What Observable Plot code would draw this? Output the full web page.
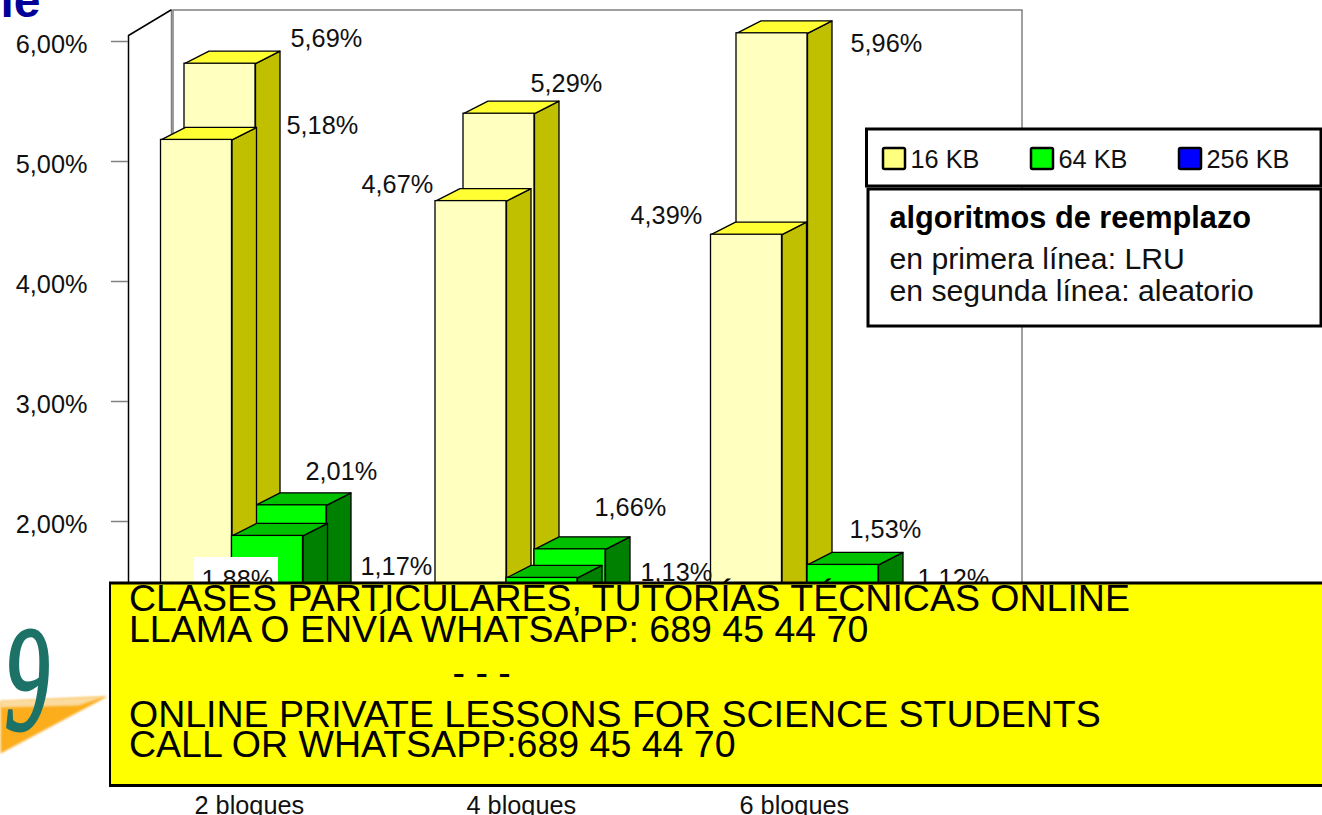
<!DOCTYPE html>
<html><head><meta charset="utf-8">
<script src="https://cdn.jsdelivr.net/npm/d3@7"></script>
<script src="https://cdn.jsdelivr.net/npm/@observablehq/plot@0.6"></script>
<style>html,body{margin:0;padding:0;background:#fff;overflow:hidden}svg{display:block}</style>
</head><body><div id="chart"></div>
<script>
// ---- data ----
const groups = ["2 bloques", "4 bloques", "6 bloques"];
const lru16 = [5.18, 4.67, 4.39];
const rnd16 = [5.69, 5.29, 5.96];
const lru64 = [1.88, 1.53, 1.35];      // only the 1st label is legible, the rest estimated
const rnd64 = [2.01, 1.66, 1.53];
const lru256 = [0.95, 0.9, 0.9];       // hidden by the banner, estimated
const rnd256 = [1.17, 1.13, 1.12];
const yTicks = [2, 3, 4, 5, 6];
const series = ["16 KB", "64 KB", "256 KB"];
const bannerLines = [
  "CLASES PARTICULARES, TUTORÍAS TÉCNICAS ONLINE",
  "LLAMA O ENVÍA WHATSAPP: 689 45 44 70",
  "- - -",
  "ONLINE PRIVATE LESSONS FOR SCIENCE STUDENTS",
  "CALL OR WHATSAPP:689 45 44 70"
];

// ---- layout ----
const W = 1322, H = 815, FONT = "Liberation Sans, Arial, sans-serif";
const y0px = 761, pxPerUnit = 120;
const py = p => (y0px - p) / pxPerUnit;          // pixel row -> value on the y scale
const dy = 12.5 / pxPerUnit, dx = 24.5, barW = 71;
const groupX = [160.5, 435, 710.5];              // left of first front bar
const backDX = [23.5, 28, 25.5];
const backDY = [15, 13, 13].map(d => d / pxPerUnit);
const seriesDX = [0, 71, 142];
const palette = [
  {front: "#ffffc0", top: "#ffff33", side: "#c0c000"},
  {front: "#00ff00", top: "#00c000", side: "#008000"},
  {front: "#0000ff", top: "#0000c0", side: "#000080"}
];

const marks = [];
const poly = (pts, fill, stroke, strokeWidth, extra = {}) =>
  marks.push(Plot.line(pts, {x: "x", y: "y", fill, stroke, strokeWidth, curve: "linear", strokeLinejoin: "round", ...extra}));
const rect = (x1, x2, p1, p2, fill, stroke, strokeWidth, extra = {}) =>
  marks.push(Plot.rect([{}], {x1: () => x1, x2: () => x2, y1: () => py(p1), y2: () => py(p2), fill, stroke, strokeWidth, ...extra}));
const label = (t, x, p, o = {}) =>
  marks.push(Plot.text([t], {x: () => x - 1, y: () => py(p), text: d => d, textAnchor: "start", fontFamily: FONT, fontSize: 25.3, fill: "#111", lineAnchor: "middle", ...o}));

// walls
rect(173, 1022, 10, 700, "#fff", "#808080", 1.5);
poly([{x: 171, y: py(10)}, {x: 171, y: py(700)}], "none", "#808080", 1.5);
poly([{x: 128, y: py(700)}, {x: 128, y: py(35)}, {x: 170.5, y: py(9.5)}], "none", "#000", 1.5);
marks.push(Plot.ruleY(yTicks, {x1: 111, x2: 128, y: d => d, stroke: "#808080", strokeWidth: 1.5}));
marks.push(Plot.text(yTicks, {x: 87, y: d => d - 3 / pxPerUnit, text: d => d.toFixed(2).replace(".", ",") + "%", textAnchor: "end", fontFamily: FONT, fontSize: 25.3, fill: "#111", lineAnchor: "middle"}));

// bars, painter's order: back row then front row
function bar(xl, base, value, c) {
  const xr = xl + barW, t = base + value;
  poly([{x: xr, y: base}, {x: xr + dx, y: base + dy}, {x: xr + dx, y: t + dy}, {x: xr, y: t}, {x: xr, y: base}], c.side, "#000", 1.3);
  poly([{x: xl, y: t}, {x: xl + dx, y: t + dy}, {x: xr + dx, y: t + dy}, {x: xr, y: t}, {x: xl, y: t}], c.top, "#000", 1.3);
  marks.push(Plot.rect([{}], {x1: () => xl, x2: () => xr, y1: () => base, y2: () => t, fill: c.front, stroke: "#000", strokeWidth: 1.3}));
}
const backRows = [rnd16, rnd64, rnd256], frontRows = [lru16, lru64, lru256];
groups.forEach((_, g) => {
  backRows.forEach((row, s) => bar(groupX[g] + backDX[g] + seriesDX[s], backDY[g], row[g], palette[s]));
  frontRows.forEach((row, s) => bar(groupX[g] + seriesDX[s], 0, row[g], palette[s]));
});

// value labels
const valueLabels = [
  [rnd16[0], 291, 38], [lru16[0], 287, 125], [rnd64[0], 306, 471], [rnd256[0], 361, 566],
  [lru16[1], 362, 184], [rnd16[1], 531, 83], [rnd64[1], 595, 507], [rnd256[1], 641, 572],
  [rnd16[2], 851, 43], [lru16[2], 631, 215], [rnd64[2], 850, 529], [rnd256[2], 918, 578]
];
const fmt = v => v.toFixed(2).replace(".", ",") + "%";
valueLabels.forEach(([v, x, p]) => label(fmt(v), x, p));
rect(194, 278, 557, 584, "#fff", "none", 0);
label(fmt(lru64[0]), 202, 579);

// legend
rect(866.5, 1321, 129, 186, "#fff", "#000", 3);
series.forEach((s, i) => {
  const x = 883 + i * 148;
  marks.push(Plot.rect([{}], {x1: () => x, x2: () => x + 22, y1: () => py(148), y2: () => py(169), fill: ["#ffff80", "#00ff00", "#0000ff"][i], stroke: "#000", strokeWidth: 2.5, r: 1.5}));
  label(s, x + 28, 159);
});
rect(868, 1321, 189, 326, "#fff", "#000", 3);
label("algoritmos de reemplazo", 890, 218, {fontWeight: "bold", fontSize: 30.7, fill: "#000"});
label("en primera línea: LRU", 890, 259, {fontSize: 30.2});
label("en segunda línea: aleatorio", 890, 291, {fontSize: 30.2});

// banner
rect(109.5, 1340, 582.5, 785, "#ffff00", "none", 0);
marks.push(Plot.ruleY([py(582.5), py(785)], {x1: 109, x2: W, y: d => d, stroke: "#000", strokeWidth: 3}));
marks.push(Plot.ruleX([109.5], {y1: py(582), y2: py(785), x: d => d, stroke: "#000", strokeWidth: 2}));
const bannerP = [598, 629, 672, 714, 744];
bannerLines.forEach((t, i) => label(t, i === 2 ? 453 : 129.5, bannerP[i], {fontSize: 37.5, fill: "#000"}));

// x labels
groups.forEach((g, i) => label(g, [195, 467, 740][i], 805, {fill: "#111"}));

// logo
const blur = (i, s, v, d, c, next) => { const g = next(i, s, v, d, c); g.style.filter = "blur(0.8px)"; return g; };
poly([{x: 0, y: py(701)}, {x: 107, y: py(696)}, {x: 0, y: py(753)}, {x: 0, y: py(701)}], "#fbad1c", "none", 0, {render: blur});
poly([{x: 0, y: py(700)}, {x: 105, y: py(696)}, {x: 78, y: py(705)}, {x: 0, y: py(707)}, {x: 0, y: py(700)}], "#fbdb9f", "none", 0, {render: blur});
label("9", 0, 682, {fontFamily: "Liberation Serif, serif", fontStyle: "italic", fontSize: 150, fill: "#1d7268", stroke: "#1d7268", strokeWidth: 3,
  render: (i, s, v, d, c, next) => { const g = next(i, s, v, d, c); g.style.transformOrigin = "0 682px"; g.style.transform = "translateX(5px) scaleX(0.6)"; g.style.filter = "blur(0.6px)"; return g; }});

// clipped heading fragment
label("le", 1, 1, {fontSize: 48, fontWeight: "bold", fill: "#000099", lineAnchor: "middle"});

const chart = Plot.plot({
  width: W, height: H, margin: 0,
  x: {type: "linear", domain: [0, W], range: [0, W], axis: null},
  y: {type: "linear", domain: [py(H), py(0)], range: [H, 0], axis: null},
  style: {background: "#fff", overflow: "hidden"},
  marks
});
document.getElementById("chart").appendChild(chart);
</script></body></html>
